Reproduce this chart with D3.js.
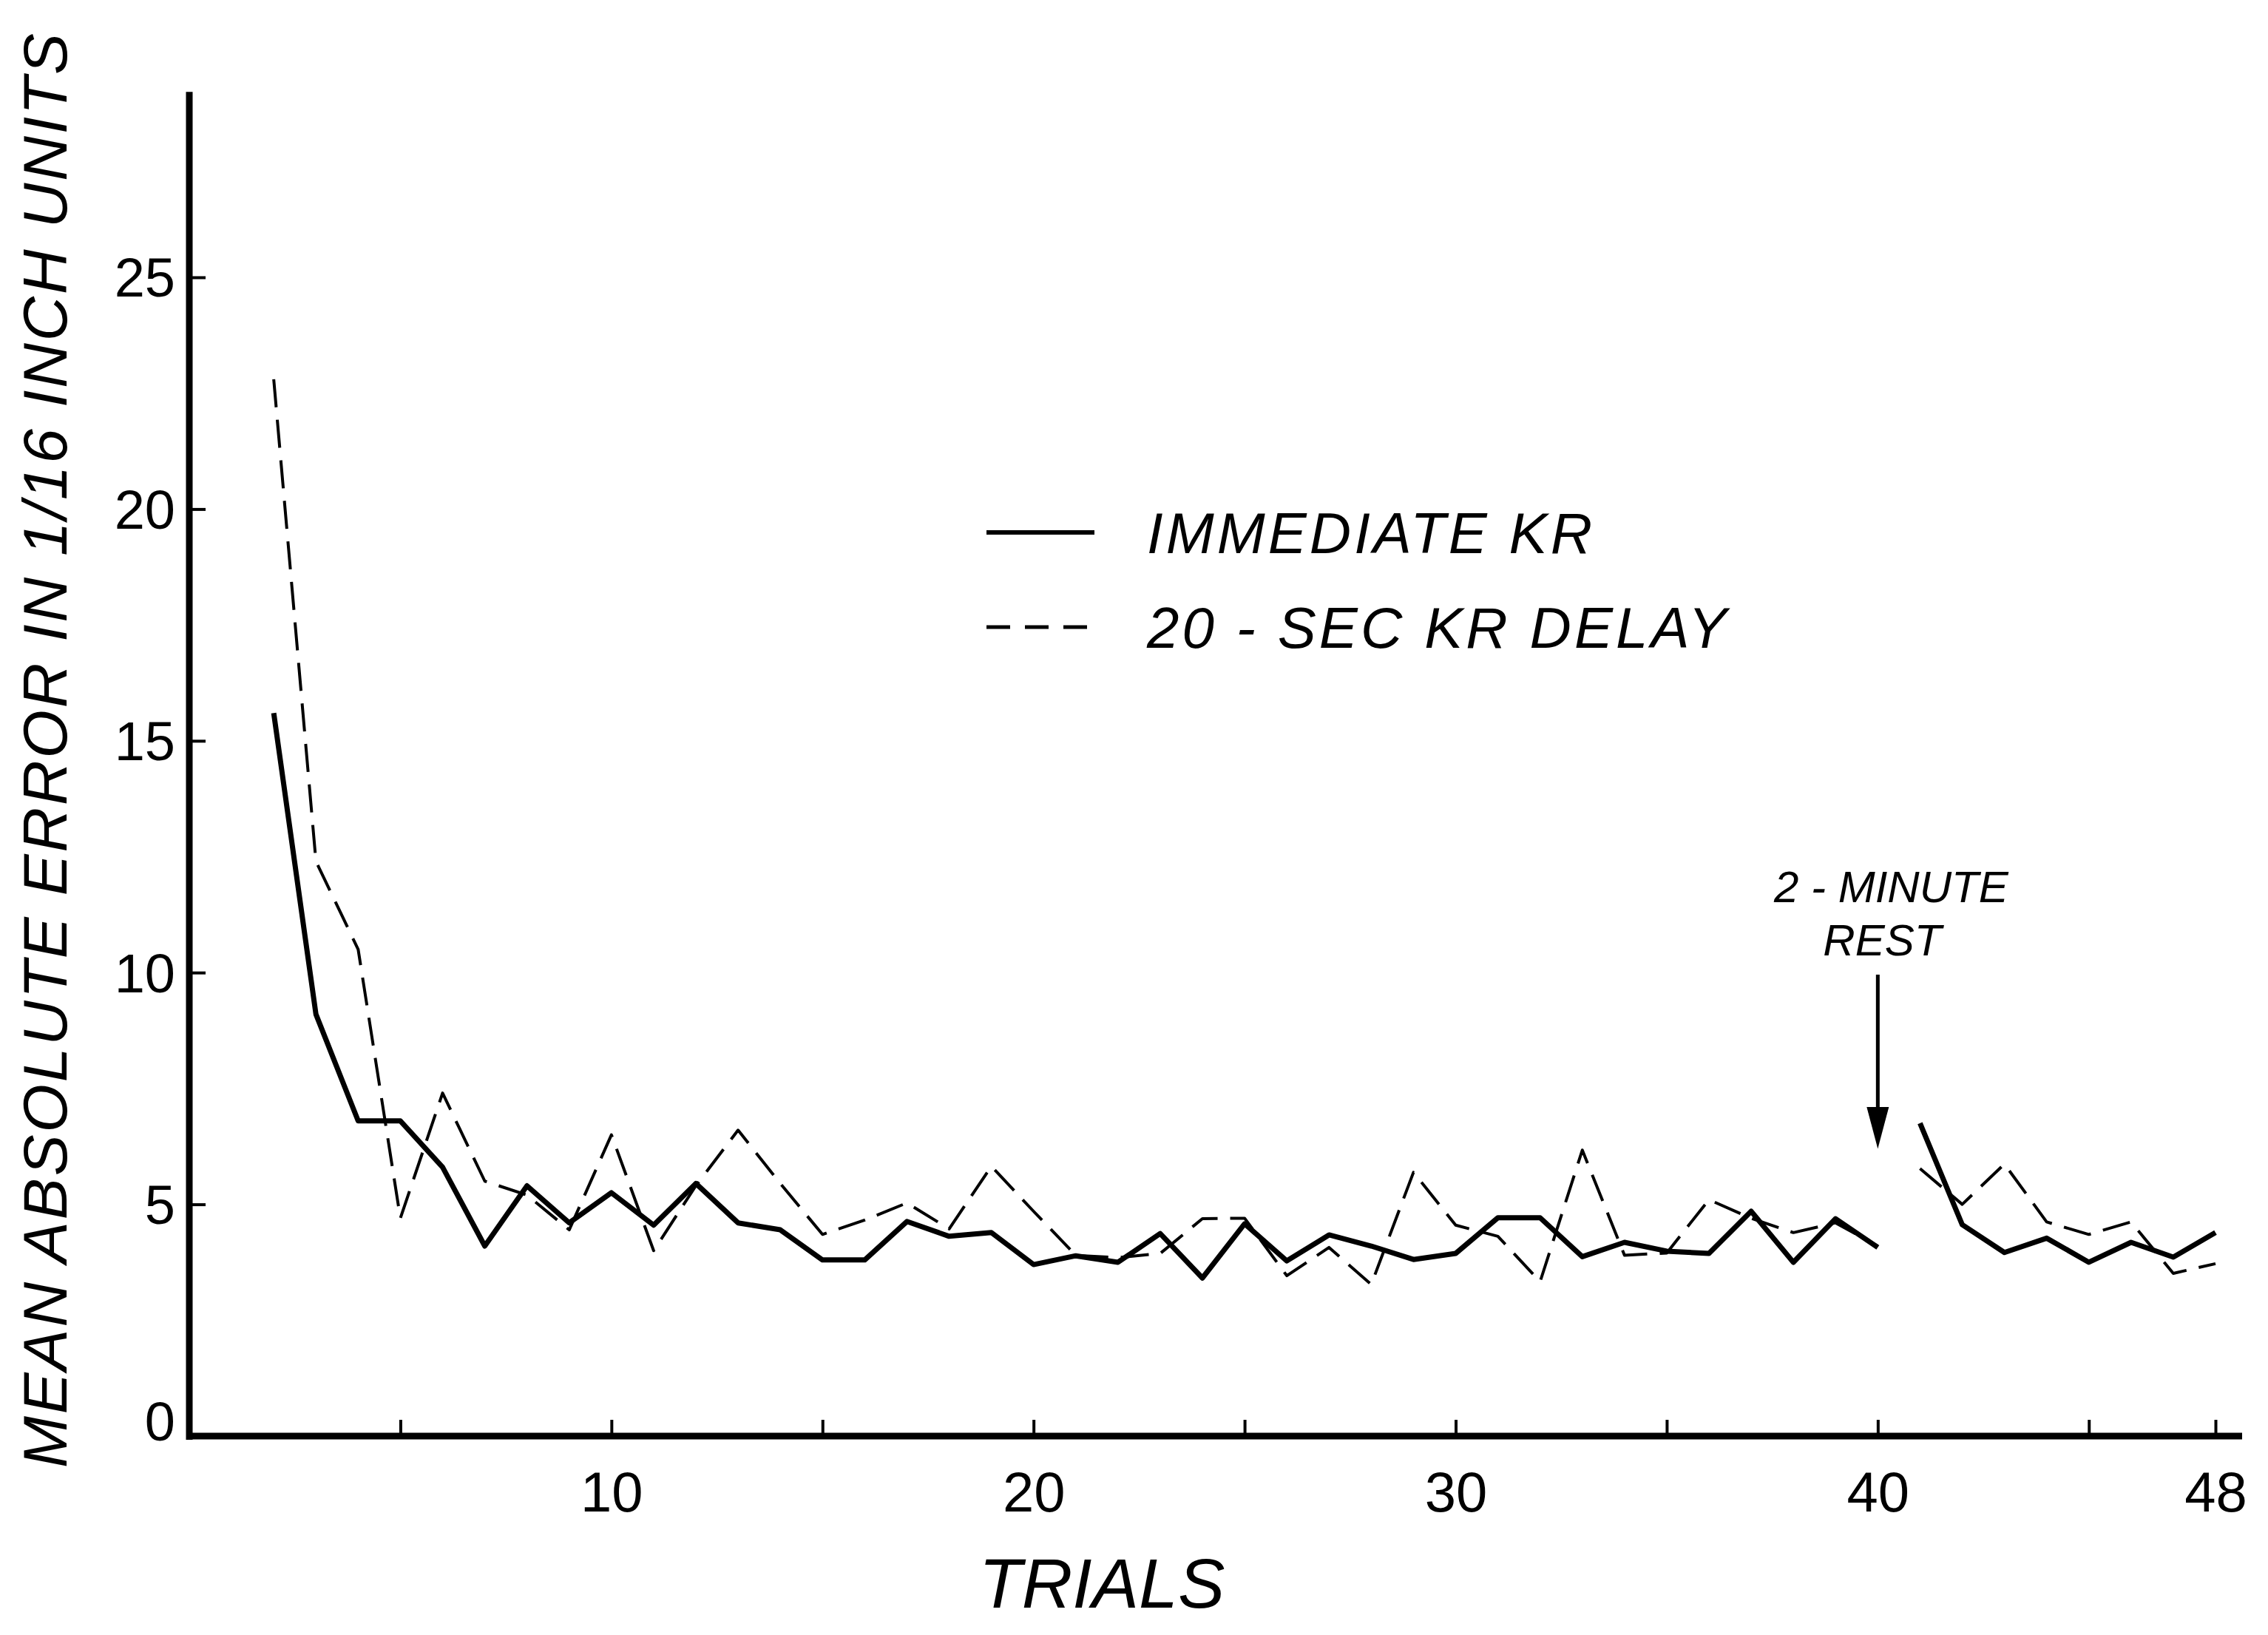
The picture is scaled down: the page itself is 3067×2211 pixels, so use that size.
<!DOCTYPE html>
<html>
<head>
<meta charset="utf-8">
<script src="https://cdn.jsdelivr.net/npm/d3@7"></script>
<style>
  body { margin: 0; background: #fff; }
  text { font-family: "Liberation Sans", Arial, sans-serif; fill: #000; }
</style>
</head>
<body>
<div id="chart"></div>
<script>
// trials and the two groups' mean absolute error (1/16 inch units)
var trials = [2, 3, 4, 5, 6, 7, 8, 9, 10, 11, 12, 13, 14, 15, 16, 17, 18, 19, 20, 21,
  22, 23, 24, 25, 26, 27, 28, 29, 30, 31, 32, 33, 34, 35, 36, 37, 38, 39, 40,
  41, 42, 43, 44, 45, 46, 47, 48];

var immediateKR = [15.6, 9.1, 6.8, 6.8, 5.8, 4.1, 5.4, 4.6, 5.25, 4.55, 5.45, 4.6, 4.45, 3.8, 3.8, 4.63,
  4.31, 4.39, 3.7, 3.89, 3.75, 4.37, 3.41, 4.58, 3.78, 4.34, 4.1, 3.81, 3.94, 4.71, 4.71, 3.87, 4.18,
  3.99, 3.94, 4.85, 3.75, 4.69, 4.07,
  6.75, 4.56, 3.96, 4.27, 3.75, 4.18, 3.86, 4.39];

var delayKR = [22.8, 12.4, 10.5, 4.7, 7.4, 5.5, 5.2, 4.45, 6.5, 4.0, 5.4, 6.6, 5.45, 4.35, 4.66, 5.03,
  4.47, 5.82, 4.85, 3.9, 3.85, 3.94, 4.69, 4.7, 3.46, 4.07, 3.27, 5.69, 4.55, 4.31, 3.33, 6.17, 3.9,
  3.95, 5.1, 4.7, 4.39, 4.6, 4.1,
  5.77, 5.0, 5.87, 4.62, 4.35, 4.62, 3.51, 3.72];

var restAfter = 40;   // 2-minute rest between trial 40 and 41
var xTicks = [5, 10, 15, 20, 25, 30, 35, 40, 45, 48];
var xLabels = [10, 20, 30, 40, 48];
var yTicks = [0, 5, 10, 15, 20, 25];

var width = 3067, height = 2211;

var svg = d3.select("#chart").append("svg")
  .attr("width", width)
  .attr("height", height);

svg.append("rect").attr("width", width).attr("height", height).attr("fill", "#fff");

var x = d3.scaleLinear().domain([0, 48]).range([256, 2996]);
var y = d3.scaleLinear().domain([0, 25]).range([1942, 375]);

// axes
var yAxis = d3.axisLeft(y)
  .tickValues(yTicks)
  .tickSizeInner(-22)
  .tickSizeOuter(0)
  .tickPadding(19);

var gy = svg.append("g").attr("transform", "translate(" + x(0) + ",0)").call(yAxis);
gy.select(".domain").remove();
gy.selectAll(".tick line").attr("stroke", "#000").attr("stroke-width", 4);
gy.selectAll(".tick text")
  .attr("font-size", 74)
  .attr("font-family", "Liberation Sans")
  .attr("dy", function(d) { return d === 0 ? "0.08em" : "0.35em"; });

var xAxis = d3.axisBottom(x)
  .tickValues(xTicks)
  .tickSizeInner(-22)
  .tickSizeOuter(0)
  .tickPadding(48)
  .tickFormat(function(d) { return xLabels.indexOf(d) >= 0 ? d : ""; });

var gx = svg.append("g").attr("transform", "translate(0," + y(0) + ")").call(xAxis);
gx.select(".domain").remove();
gx.selectAll(".tick line").attr("stroke", "#000").attr("stroke-width", 4);
gx.selectAll(".tick text")
  .attr("font-size", 76)
  .attr("font-family", "Liberation Sans");

// heavy hand-drawn axis lines
svg.append("line")
  .attr("x1", x(0)).attr("x2", x(0))
  .attr("y1", y(29)).attr("y2", y(0) + 5)
  .attr("stroke", "#000").attr("stroke-width", 9);
svg.append("line")
  .attr("x1", x(0) - 4).attr("x2", 3032)
  .attr("y1", y(0)).attr("y2", y(0))
  .attr("stroke", "#000").attr("stroke-width", 9);

// series
var line = d3.line()
  .x(function(d) { return x(d.t); })
  .y(function(d) { return y(d.v); });

function segments(values) {
  var pts = trials.map(function(t, i) { return { t: t, v: values[i] }; });
  return [pts.filter(function(d) { return d.t <= restAfter; }),
          pts.filter(function(d) { return d.t > restAfter; })];
}

svg.append("g").selectAll("path")
  .data(segments(delayKR))
  .enter().append("path")
  .attr("d", line)
  .attr("fill", "none")
  .attr("stroke", "#000")
  .attr("stroke-width", 4)
  .attr("stroke-dasharray", "38,17")
  .attr("stroke-linejoin", "round");

svg.append("g").selectAll("path")
  .data(segments(immediateKR))
  .enter().append("path")
  .attr("d", line)
  .attr("fill", "none")
  .attr("stroke", "#000")
  .attr("stroke-width", 7)
  .attr("stroke-linejoin", "round");

// legend
var legend = svg.append("g");
legend.append("line")
  .attr("x1", 1334).attr("x2", 1480).attr("y1", 720).attr("y2", 720)
  .attr("stroke", "#000").attr("stroke-width", 6);
legend.append("line")
  .attr("x1", 1334).attr("x2", 1480).attr("y1", 848).attr("y2", 848)
  .attr("stroke", "#000").attr("stroke-width", 5)
  .attr("stroke-dasharray", "32,20");
legend.append("text")
  .attr("x", 1551).attr("y", 748)
  .attr("font-size", 78).attr("font-style", "italic")
  .attr("textLength", 602).attr("lengthAdjust", "spacing")
  .text("IMMEDIATE  KR");
legend.append("text")
  .attr("x", 1551).attr("y", 876)
  .attr("font-size", 78).attr("font-style", "italic")
  .attr("textLength", 784).attr("lengthAdjust", "spacing")
  .text("20 - SEC  KR  DELAY");

// rest annotation
var ax = x(restAfter);
svg.append("text")
  .attr("x", ax + 18).attr("y", 1220)
  .attr("text-anchor", "middle")
  .attr("font-size", 60).attr("font-style", "italic")
  .text("2 - MINUTE");
svg.append("text")
  .attr("x", ax + 6).attr("y", 1292)
  .attr("text-anchor", "middle")
  .attr("font-size", 60).attr("font-style", "italic")
  .text("REST");
svg.append("line")
  .attr("x1", ax).attr("x2", ax)
  .attr("y1", 1318).attr("y2", y(6.8))
  .attr("stroke", "#000").attr("stroke-width", 5);
svg.append("path")
  .attr("d", "M" + (ax - 15) + "," + y(7.1) + "L" + (ax + 15) + "," + y(7.1) + "L" + ax + "," + y(6.2) + "Z")
  .attr("fill", "#000");

// axis titles
svg.append("text")
  .attr("x", 1490).attr("y", 2174)
  .attr("text-anchor", "middle")
  .attr("font-size", 95).attr("font-style", "italic")
  .text("TRIALS");

svg.append("text")
  .attr("transform", "translate(90,1985) rotate(-90)")
  .attr("x", 0).attr("y", 0)
  .attr("font-size", 84).attr("font-style", "italic")
  .attr("textLength", 1940).attr("lengthAdjust", "spacing")
  .text("MEAN ABSOLUTE ERROR IN 1/16 INCH UNITS");
</script>
</body>
</html>
